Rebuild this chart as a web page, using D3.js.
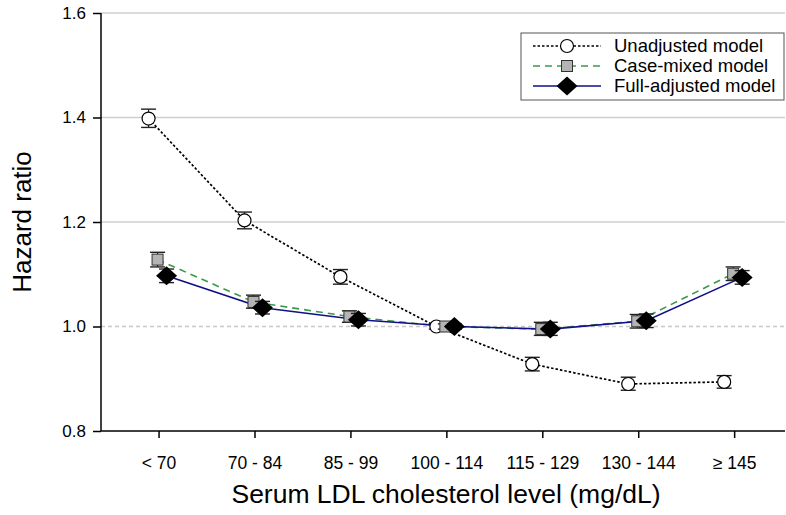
<!DOCTYPE html>
<html>
<head>
<meta charset="utf-8">
<script src="https://cdn.jsdelivr.net/npm/d3@7"></script>
<style>
  body { margin: 0; background: #fff; }
  text { font-family: "Liberation Sans", Arial, sans-serif; fill: #000; }
</style>
</head>
<body>
<div id="vis"></div>
<script>
var categories = ['< 70', '70 - 84', '85 - 99', '100 - 114', '115 - 129', '130 - 144', '\u2265 145'];
var yTicks = [0.8, 1.0, 1.2, 1.4, 1.6];

// hazard ratio, lower CI, upper CI
var unadjusted = [1.398, 1.203, 1.095, 1.0, 0.928, 0.890, 0.894];
var unadjustedLo = [1.381, 1.187, 1.081, 0.995, 0.915, 0.878, 0.882];
var unadjustedHi = [1.416, 1.219, 1.109, 1.005, 0.941, 0.903, 0.906];

var caseMixed = [1.128, 1.047, 1.019, 1.0, 0.995, 1.010, 1.101];
var caseMixedLo = [1.114, 1.035, 1.008, 0.995, 0.983, 0.997, 1.088];
var caseMixedHi = [1.142, 1.060, 1.030, 1.005, 1.008, 1.023, 1.114];

var fullAdj = [1.097, 1.036, 1.013, 1.0, 0.995, 1.011, 1.094];
var fullAdjLo = [1.084, 1.024, 1.001, 0.995, 0.983, 0.998, 1.081];
var fullAdjHi = [1.110, 1.048, 1.025, 1.005, 1.008, 1.024, 1.107];

var width = 786, height = 515;
var plotLeft = 101, plotRight = 785, plotTop = 13, plotBottom = 431;
var fontFam = '"Liberation Sans", Arial, sans-serif';

var svg = d3.select('#vis').append('svg')
  .attr('width', width)
  .attr('height', height);

var x = d3.scaleLinear().domain([-0.6, 6.53]).range([plotLeft, plotRight]);
var y = d3.scaleLinear().domain([0.8, 1.6]).range([plotBottom, plotTop]);

// grid lines
svg.selectAll('.grid')
  .data([1.2, 1.4, 1.6])
  .enter().append('line')
  .attr('x1', plotLeft).attr('x2', plotRight)
  .attr('y1', function (d) { return y(d); })
  .attr('y2', function (d) { return y(d); })
  .attr('stroke', '#cfcfcf')
  .attr('stroke-width', 1.5);

svg.append('line')
  .attr('x1', plotLeft).attr('x2', plotRight)
  .attr('y1', y(1.0)).attr('y2', y(1.0))
  .attr('stroke', '#c8c8c8')
  .attr('stroke-width', 1.3)
  .attr('stroke-dasharray', '4,3');

// axes
var yAxis = d3.axisLeft(y).tickValues(yTicks).tickFormat(d3.format('.1f')).tickSize(8).tickPadding(7);
var gy = svg.append('g').attr('transform', 'translate(' + plotLeft + ',0)').call(yAxis);
gy.select('.domain').attr('stroke-width', 1.5).attr('d', 'M0,' + plotBottom + 'V' + plotTop);
gy.selectAll('.tick line').attr('stroke-width', 1.5);
gy.selectAll('.tick text').style('font-size', '17px').style('font-family', fontFam);

var xAxis = d3.axisBottom(x).tickValues(d3.range(categories.length))
  .tickFormat(function (i) { return categories[i]; }).tickSize(7).tickPadding(19);
var gx = svg.append('g').attr('transform', 'translate(0,' + plotBottom + ')').call(xAxis);
gx.select('.domain').attr('stroke-width', 1.5).attr('d', 'M' + plotLeft + ',0H' + plotRight);
gx.selectAll('.tick line').attr('stroke-width', 1.5);
gx.selectAll('.tick text').style('font-size', '17.5px').style('font-family', fontFam);

svg.append('text')
  .attr('transform', 'translate(31,' + ((plotTop + plotBottom) / 2) + ') rotate(-90)')
  .attr('text-anchor', 'middle')
  .style('font-size', '26px')
  .text('Hazard ratio');

svg.append('text')
  .attr('x', (plotLeft + plotRight) / 2 + 3)
  .attr('y', 503)
  .attr('text-anchor', 'middle')
  .style('font-size', '26.5px')
  .text('Serum LDL cholesterol level (mg/dL)');

var series = [
  { name: 'Unadjusted model', vals: unadjusted, lo: unadjustedLo, hi: unadjustedHi, off: -10,
    line: '#000', dash: '2.5,2', lw: 1.7, marker: 'circle' },
  { name: 'Case-mixed model', vals: caseMixed, lo: caseMixedLo, hi: caseMixedHi, off: -1,
    line: '#3a9a4a', dash: '7,5', lw: 1.6, marker: 'square' },
  { name: 'Full-adjusted model', vals: fullAdj, lo: fullAdjLo, hi: fullAdjHi, off: 8,
    line: '#10108a', dash: null, lw: 1.6, marker: 'diamond' }
];

function drawMarker(g, type, cx, cy) {
  if (type === 'circle') {
    g.append('circle').attr('cx', cx).attr('cy', cy).attr('r', 6.5)
      .attr('fill', '#fff').attr('stroke', '#000').attr('stroke-width', 1.2);
  } else if (type === 'square') {
    g.append('rect').attr('x', cx - 5.5).attr('y', cy - 5.5).attr('width', 11).attr('height', 11)
      .attr('fill', '#b4b4b4').attr('stroke', '#333').attr('stroke-width', 1);
  } else {
    g.append('path').attr('d', 'M' + cx + ',' + (cy - 9.5) + 'L' + (cx + 10.5) + ',' + cy + 'L' + cx + ',' + (cy + 9.5) + 'L' + (cx - 10.5) + ',' + cy + 'Z')
      .attr('fill', '#000');
  }
}

var line = d3.line()
  .x(function (d) { return d.x; })
  .y(function (d) { return d.y; });

series.forEach(function (s) {
  var pts = s.vals.map(function (v, i) { return { x: x(i) + s.off, y: y(v) }; });
  svg.append('path')
    .attr('d', line(pts))
    .attr('fill', 'none')
    .attr('stroke', s.line)
    .attr('stroke-width', s.lw)
    .attr('stroke-dasharray', s.dash);
});

series.forEach(function (s) {
  var g = svg.append('g');
  s.vals.forEach(function (v, i) {
    var cx = x(i) + s.off;
    var y1 = y(s.lo[i]), y2 = y(s.hi[i]);
    g.append('line').attr('x1', cx).attr('x2', cx).attr('y1', y1).attr('y2', y2)
      .attr('stroke', '#222').attr('stroke-width', 1.2);
    [y1, y2].forEach(function (yy) {
      g.append('line').attr('x1', cx - 7.5).attr('x2', cx + 7.5).attr('y1', yy).attr('y2', yy)
        .attr('stroke', '#222').attr('stroke-width', 1.4);
    });
    drawMarker(g, s.marker, cx, y(v));
  });
});

// legend
var lg = svg.append('g').attr('transform', 'translate(521,33)');
lg.append('rect').attr('width', 263).attr('height', 67)
  .attr('fill', '#fff').attr('stroke', '#555').attr('stroke-width', 1);
series.forEach(function (s, i) {
  var ly = 13 + i * 20;
  lg.append('line').attr('x1', 12).attr('x2', 80).attr('y1', ly).attr('y2', ly)
    .attr('stroke', s.line).attr('stroke-width', s.lw).attr('stroke-dasharray', s.dash);
  drawMarker(lg, s.marker, 46, ly);
  lg.append('text').attr('x', 93).attr('y', ly + 6).style('font-size', '18.5px').text(s.name);
});
</script>
</body>
</html>
